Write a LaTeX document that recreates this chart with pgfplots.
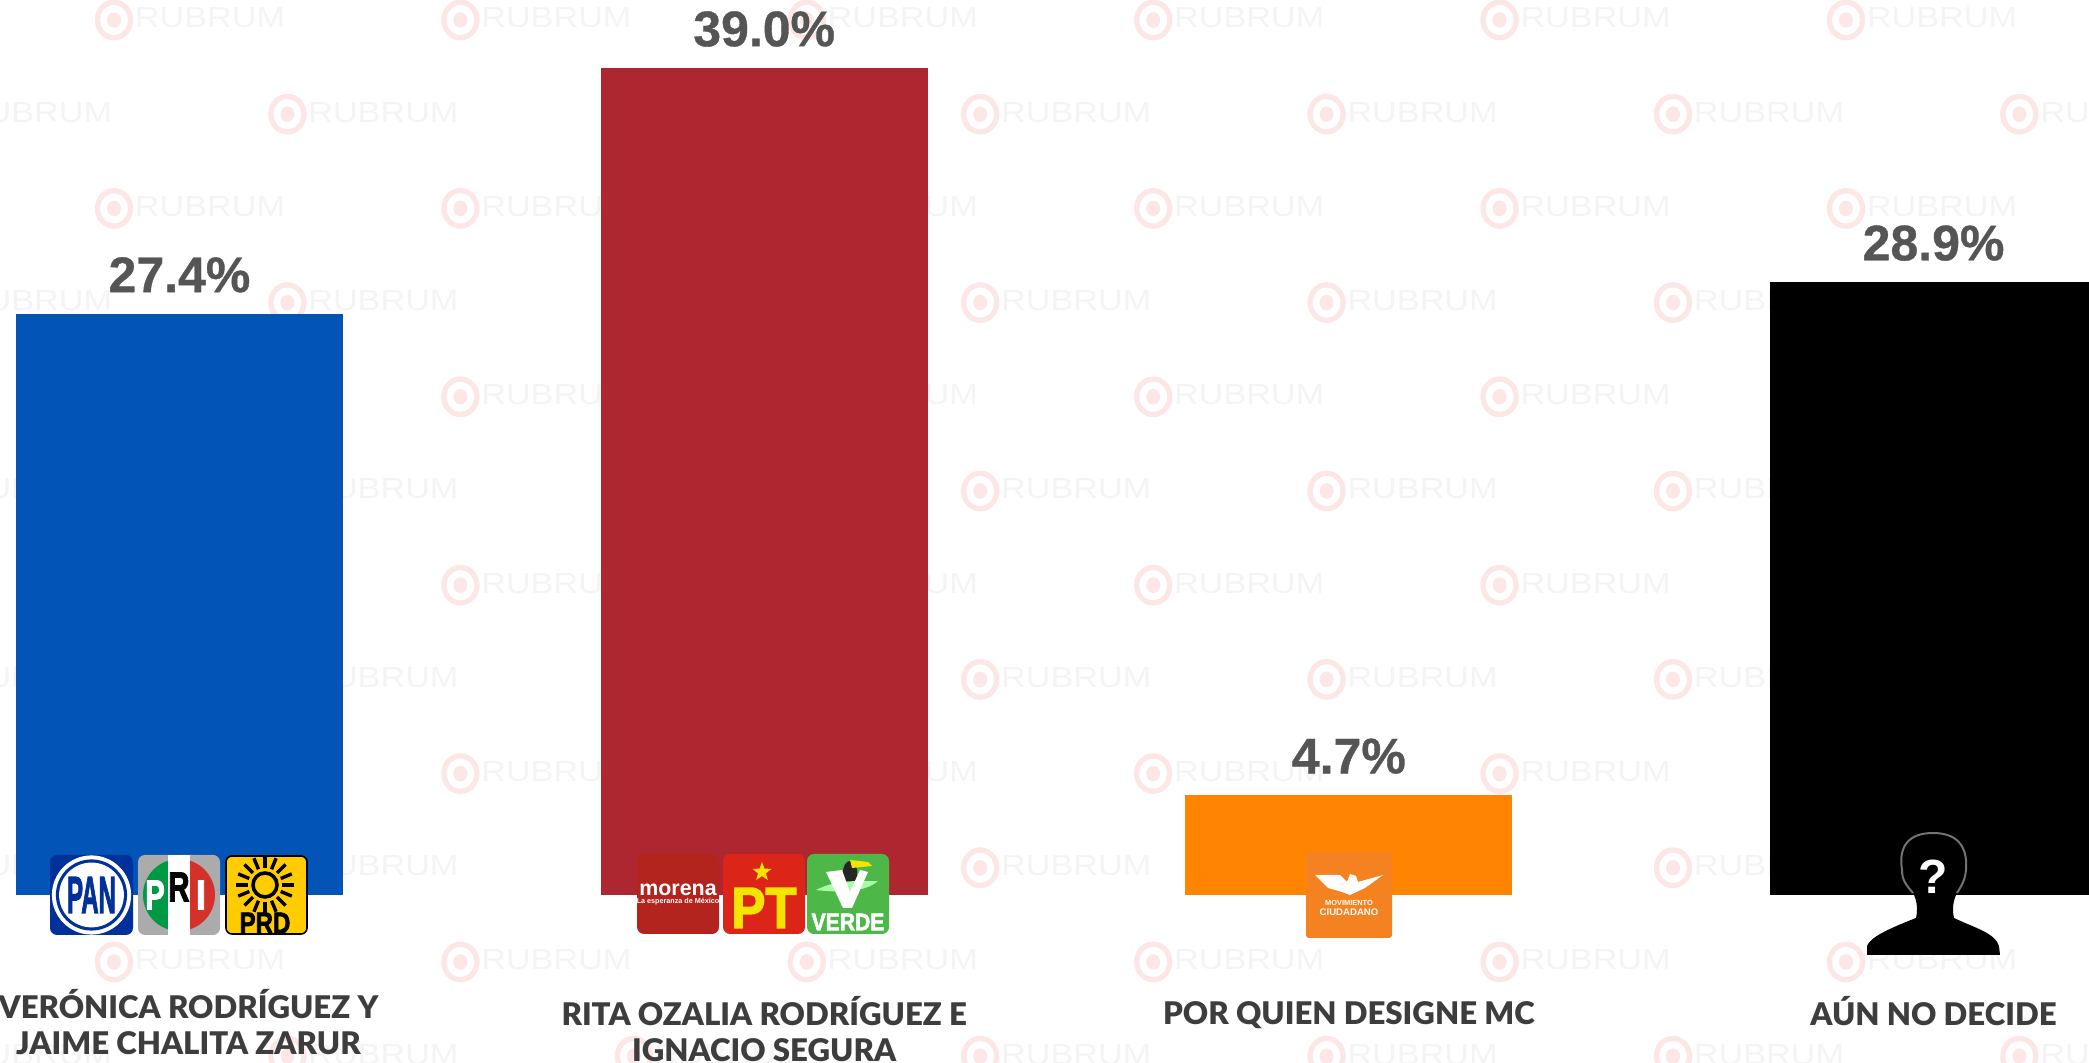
\documentclass[border=0pt]{standalone}
\usepackage{fontspec}
\setmainfont{Liberation Sans}
\newfontfamily\labfont{Lato}[UprightFont=* Black,BoldFont=* Black]
\newfontfamily\pctfont{Liberation Sans}[UprightFont=* Bold,FakeBold=0.7]
\newfontfamily\logofont{Liberation Sans}[UprightFont=* Bold,FakeBold=2.5]
\usepackage{pgfplots}
\pgfplotsset{compat=1.18}
\usetikzlibrary{shapes.geometric}
\definecolor{wmpink}{HTML}{FDE6E6}
\definecolor{wmgray}{HTML}{F4F4F4}
\definecolor{barblue}{HTML}{0254B6}
\definecolor{barred}{HTML}{AE262F}
\definecolor{barorange}{HTML}{FF8402}
\definecolor{pctgray}{HTML}{555555}
\definecolor{labgray}{HTML}{3D3D3D}
\definecolor{panblue}{HTML}{00309A}
\definecolor{prigray}{HTML}{ABABAB}
\definecolor{prigreen}{HTML}{009A44}
\definecolor{prired}{HTML}{D3312A}
\definecolor{prdyel}{HTML}{FFCC00}
\definecolor{morenared}{HTML}{B3241F}
\definecolor{ptred}{HTML}{DD2419}
\definecolor{ptyel}{HTML}{F5E400}
\definecolor{verdegreen}{HTML}{4DB848}
\definecolor{mcorange}{HTML}{F58220}
\newcommand\lstrut{\rule{0pt}{14.5pt}}
\newcommand\wm[2]{%
  \fill[wmpink] (#1,#2) ellipse[x radius=9.6pt,y radius=10.2pt];
  \fill[white] (#1,#2) ellipse[x radius=6.9pt,y radius=7.5pt];
  \fill[wmpink] (#1,#2) ellipse[x radius=3.5pt,y radius=3.9pt];
  \node[text=wmgray,inner sep=0pt,font=\fontsize{14.5}{15}\selectfont] at ({#1+96},{#2-2}) {\scalebox{1.18}[1]{RUBRUM}};
}
\begin{document}
\begin{tikzpicture}
\useasboundingbox (0,0) rectangle (1044.5pt,531.5pt);
\clip (0,0) rectangle (1044.5pt,531.5pt);
% watermark
\begin{scope}[x=0.5pt,y=-0.5pt,shift={(0pt,531.5pt)}]
\foreach \r in {0,2,4,6,8,10}{
  \foreach \c in {0,...,5}{
    \pgfmathsetmacro\wx{114+346.4*\c}
    \pgfmathsetmacro\wy{20+94.2*\r}
    \wm{\wx}{\wy}
  }
}
\foreach \r in {1,3,5,7,9,11}{
  \foreach \c in {0,...,6}{
    \pgfmathsetmacro\wx{-59+346.4*\c}
    \pgfmathsetmacro\wy{20+94.2*\r}
    \wm{\wx}{\wy}
  }
}
\end{scope}
\begin{axis}[
  at={(0,0)},anchor=south west,
  width=1044.5pt,height=531.5pt,scale only axis,
  xmin=-0.307,xmax=3.2658,ymin=-7.925,ymax=42.217,
  axis line style={draw=none},
  tick style={draw=none},
  ytick=\empty,
  xtick={1,2,3},
  xticklabels={{\lstrut RITA OZALIA RODRÍGUEZ E\\IGNACIO SEGURA},{\lstrut POR QUIEN DESIGNE MC},{\lstrut AÚN NO DECIDE}},
  extra x ticks={0},
  extra x tick labels={{\lstrut VERÓNICA RODRÍGUEZ Y\\JAIME CHALITA ZARUR}},
  extra x tick style={xticklabel style={xshift=4.5pt,yshift=3.3pt}},
  xticklabel style={align=center,anchor=north,yshift=38pt,text=labgray,
    font=\labfont\fontsize{15.6}{18}\selectfont,inner sep=0pt},
  ybar,
  bar shift=0pt,
  bar width=0.5593,
  nodes near coords={\pgfmathprintnumber[fixed,precision=1,fixed zerofill,assume math mode=true]{\pgfplotspointmeta}\%},
  nodes near coords style={anchor=base,yshift=11pt,text=pctgray,inner sep=0pt,
    font=\pctfont\fontsize{25}{26}\selectfont},
]
\addplot[fill=barblue,draw=none] coordinates {(0,27.4)};
\addplot[fill=barred,draw=none] coordinates {(1,39.0)};
\addplot[fill=barorange,draw=none] coordinates {(2,4.7)};
\addplot[fill=black,draw=none] coordinates {(3,28.9)};
\end{axis}
% logos
\begin{scope}[x=0.5pt,y=-0.5pt,shift={(0pt,531.5pt)}]
% PAN
\fill[panblue,rounded corners=3.5pt] (50,855) rectangle (133,935);
\fill[white] (91.5,895) circle[radius=19.8pt];
\fill[panblue] (91.5,895) circle[radius=17.8pt];
\fill[white] (91.5,895) circle[radius=16.2pt];
\node[text=panblue,inner sep=0pt,font=\logofont\fontsize{26}{26}\selectfont] at (91.5,895) {\scalebox{.46}[1]{PAN}};
% PRI
\fill[prigray,rounded corners=3.5pt] (138,855) rectangle (220,935);
\fill[prigreen] (179,859) arc[start angle=90,end angle=270,radius=18pt] -- cycle;
\fill[prired] (179,859) arc[start angle=90,end angle=-90,radius=18pt] -- cycle;
\fill[white] (167.5,855) rectangle (190,935);
\node[text=white,inner sep=0pt,font=\logofont\fontsize{21}{21}\selectfont] at (155,895) {\scalebox{.7}[1]{P}};
\node[text=black,inner sep=0pt,font=\logofont\fontsize{21}{21}\selectfont] at (179,887) {\scalebox{.7}[1]{R}};
\node[text=white,inner sep=0pt,font=\logofont\fontsize{21}{21}\selectfont] at (201,895) {\scalebox{.9}[1]{I}};
% PRD
\filldraw[fill=prdyel,draw=black,line width=.8pt,rounded corners=3pt] (226,856) rectangle (307,934);
\draw[black,line width=1.8pt] (265,885) circle[radius=6pt];
\foreach \a in {0,22.5,...,337.5}{
  \draw[black,line width=1.7pt] (265,885) ++(\a:8.5pt) -- ++(\a:6pt);
}
\node[text=black,inner sep=0pt,font=\logofont\fontsize{15}{15}\selectfont] at (265,923) {\scalebox{.8}[1]{PRD}};
% morena
\fill[morenared,rounded corners=3.5pt] (637,854) rectangle (719,934);
\node[text=white,inner sep=0pt,font=\bfseries\fontsize{10.7}{11}\selectfont] at (678,890) {morena};
\node[text=white,inner sep=0pt,font=\bfseries\fontsize{3.6}{4}\selectfont] at (678,902) {La esperanza de México};
% PT
\fill[ptred,rounded corners=3.5pt] (723,854) rectangle (805,934);
\node[star,star points=5,star point ratio=2.4,fill=ptyel,inner sep=0pt,minimum size=10pt] at (762,872) {};
\node[text=ptyel,inner sep=0pt,font=\logofont\fontsize{29}{29}\selectfont] at (764,908) {\scalebox{.88}[1]{PT}};
% VERDE
\fill[verdegreen,rounded corners=3.5pt] (807,854) rectangle (889,934);
\fill[black!85] (850,873) ellipse[x radius=3.6pt,y radius=6pt];
\fill[ptyel] (850,860) -- (868,862) -- (872,866) -- (852,868) -- cycle;
\fill[green!35!white] (816,890) .. controls (840,878) and (860,882) .. (878,881) .. controls (866,892) and (840,893) .. cycle;
\fill[white] (826,872) -- (842,870) -- (850,892) -- (860,870) -- (868,872) -- (852,908) -- (843,908) -- cycle;
\node[text=white,inner sep=0pt,font=\logofont\fontsize{12}{12}\selectfont] at (848,922) {\scalebox{.88}[1]{VERDE}};
% MC
\fill[mcorange,rounded corners=1.5pt] (1306,852) rectangle (1392,938);
\fill[white] (1315,875) -- (1340,875) -- (1347,882) -- (1350,874) -- (1356,876) -- (1358,882) -- (1383,875) -- (1365,888) -- (1350,895) -- (1342,892) -- (1328,888) -- cycle;
\node[text=white,inner sep=0pt,font=\bfseries\fontsize{3.7}{4}\selectfont] at (1349,903) {MOVIMIENTO};
\node[text=white,inner sep=0pt,font=\bfseries\fontsize{4.8}{5}\selectfont] at (1349,912) {CIUDADANO};
% silhouette
\fill[black] (1867,955) -- (1867,946) .. controls (1870,938) and (1885,930) .. (1916,918)
  .. controls (1918,910) and (1917,900) .. (1913,893)
  .. controls (1906,885) and (1902,880) .. (1902,870)
  .. controls (1898,845) and (1910,833) .. (1933,833)
  .. controls (1956,833) and (1968,845) .. (1966,870)
  .. controls (1965,880) and (1962,885) .. (1957,893)
  .. controls (1953,900) and (1952,910) .. (1954,918)
  .. controls (1975,928) and (1995,933) .. (1999,946) -- (2000,955) -- cycle;
\draw[black!55,line width=1pt] (1913,893)
  .. controls (1906,885) and (1902,880) .. (1902,870)
  .. controls (1898,845) and (1910,833) .. (1933,833)
  .. controls (1956,833) and (1968,845) .. (1966,870)
  .. controls (1965,880) and (1962,885) .. (1957,893);
\node[text=white,inner sep=0pt,font=\bfseries\fontsize{24}{24}\selectfont] at (1933,877) {?};
\end{scope}
\end{tikzpicture}
\end{document}
